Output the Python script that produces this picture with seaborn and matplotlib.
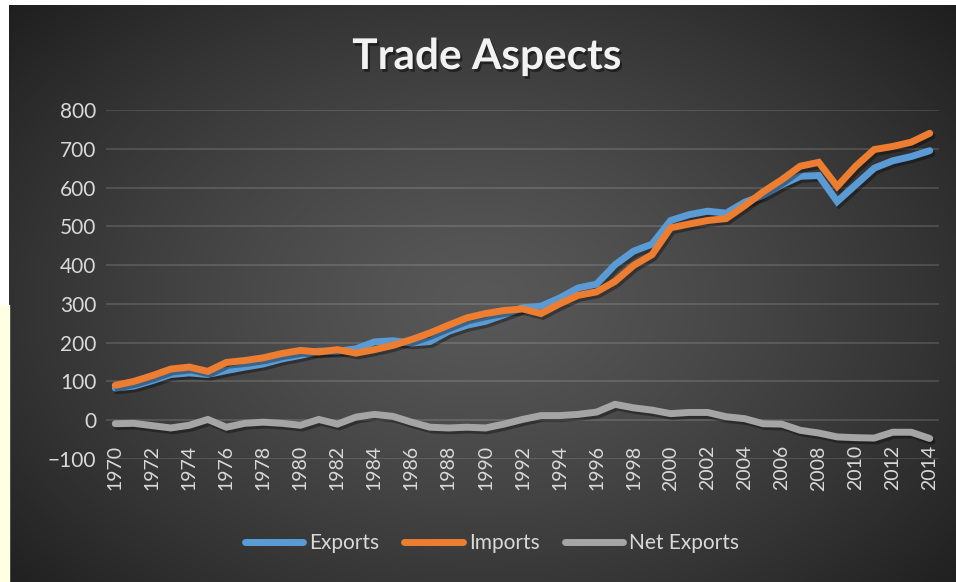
import numpy as np
import pandas as pd
import matplotlib
matplotlib.use("Agg")
import matplotlib.pyplot as plt
import matplotlib.patheffects as pe
from matplotlib.lines import Line2D
from matplotlib.patches import Rectangle
import seaborn as sns

# ---- data -------------------------------------------------------------
years = list(range(1970, 2015))
exports = [83, 88, 102, 118, 122, 118, 128, 137, 145, 158, 167, 178, 178, 184,
           202, 205, 199, 203, 229, 245, 255, 272, 290, 294, 315, 341, 351, 401,
           436, 454, 515, 530, 539, 534, 562, 580, 607, 629, 631, 564, 607, 650,
           669, 680, 695]
imports = [90, 100, 115, 132, 137, 126, 149, 154, 161, 172, 180, 176, 182, 173,
           182, 193, 208, 225, 245, 264, 275, 283, 287, 275, 300, 322, 331, 358,
           399, 427, 496, 506, 515, 520, 553, 589, 620, 655, 665, 603, 655, 698,
           706, 717, 740]
net_exports = [-9, -8, -14, -20, -13, 2, -18, -8, -5, -8, -13, 2, -10, 8,
               15, 10, -5, -18, -20, -18, -20, -10, 2, 12, 12, 15, 21, 41,
               32, 26, 17, 20, 20, 9, 4, -9, -10, -26, -33, -43, -45, -46,
               -31, -31, -47]
series_names = ["Exports", "Imports", "Net Exports"]
series_colors = ["#5B9BD5", "#ED7D31", "#A5A5A5"]
title_text = "Trade Aspects"

df = pd.DataFrame({"Year": years, "Exports": exports, "Imports": imports,
                   "Net Exports": net_exports})
long_df = df.melt(id_vars="Year", var_name="Series", value_name="Value")

# ---- style ------------------------------------------------------------
sns.set_theme(style="dark")
plt.rcParams["font.family"] = ["Lato", "DejaVu Sans"]
text_color = "#D9D9D9"

W, H = 956, 582
fig = plt.figure(figsize=(W / 100, H / 100), dpi=100, facecolor="white")

# dark radial-gradient panel behind the chart
pl, pt = 9, 5
pw, ph = W - pl, H - pt
bg_ax = fig.add_axes([pl / W, 0, pw / W, ph / H])
yy, xx = np.mgrid[0:ph, 0:pw]
cx, cy = 480 - pl, 300 - pt
r = np.sqrt(((xx - cx) / (pw * 0.55)) ** 2 + ((yy - cy) / (ph * 0.62)) ** 2)
r = np.clip(r, 0, 1.3)
shade = (88 - 44 * r ** 1.3) / 255.0
shade = np.clip(shade, 0.12, 1)
bg_ax.imshow(np.dstack([shade] * 3), aspect="auto", interpolation="bilinear")
bg_ax.set_axis_off()

# pale strip at the lower left edge
fig.patches.append(Rectangle((0, 0), pl / W, (H - 305) / H,
                             transform=fig.transFigure, color="#FFFFE3",
                             zorder=5))

# ---- plot area --------------------------------------------------------
left, right, top, bottom = 106, 939, 110, 459
ax = fig.add_axes([left / W, (H - bottom) / H, (right - left) / W,
                   (bottom - top) / H])
ax.patch.set_alpha(0)

# category axis sits on the zero line
for s in ax.spines.values():
    s.set_visible(False)
ax.spines["bottom"].set_position(("data", 0))

sns.lineplot(data=long_df, x="Year", y="Value", hue="Series",
             hue_order=series_names,
             palette=dict(zip(series_names, series_colors)),
             linewidth=5.0, solid_capstyle="round", solid_joinstyle="miter",
             legend=False, ax=ax)

for ln in ax.lines:
    ln.set_path_effects([
        pe.SimpleLineShadow(offset=(1.5, -2), shadow_color="black",
                            alpha=0.35),
        pe.Normal(),
    ])

ax.set_xlim(years[0] - 0.5, years[-1] + 0.5)
ax.set_ylim(-100, 800)
ax.set_yticks(range(-100, 801, 100))
ax.set_xticks(years[::2])
ax.set_xticklabels([str(y) for y in years[::2]])
ax.set_xlabel("")
ax.set_ylabel("")

ax.grid(False)
ax.yaxis.grid(True, color="white", alpha=0.14, linewidth=1.3)
ax.set_axisbelow(True)

ax.tick_params(axis="y", length=0, pad=7, labelsize=15, labelcolor=text_color)
ax.tick_params(axis="x", length=0, pad=18, labelsize=14, labelcolor=text_color,
               labelrotation=90)

# ---- title and legend -------------------------------------------------
fig.text(487 / W, 1 - 57 / H, title_text, ha="center", va="center",
         fontsize=30.5, fontweight="bold", color="#F2F2F2",
         path_effects=[pe.SimplePatchShadow(offset=(1.5, -2),
                                            shadow_rgbFace="black",
                                            alpha=0.45),
                       pe.Normal()])

handles = [Line2D([0], [0], color=c, linewidth=5.0, solid_capstyle="round")
           for c in series_colors]
fig.legend(handles, series_names, loc="center",
           bbox_to_anchor=(492 / W, 39 / H), ncol=3, frameon=False,
           fontsize=15, handlelength=2.8, handletextpad=0.3,
           columnspacing=1.2, labelcolor=text_color)

fig.savefig("out.png", dpi=100, facecolor="white")
